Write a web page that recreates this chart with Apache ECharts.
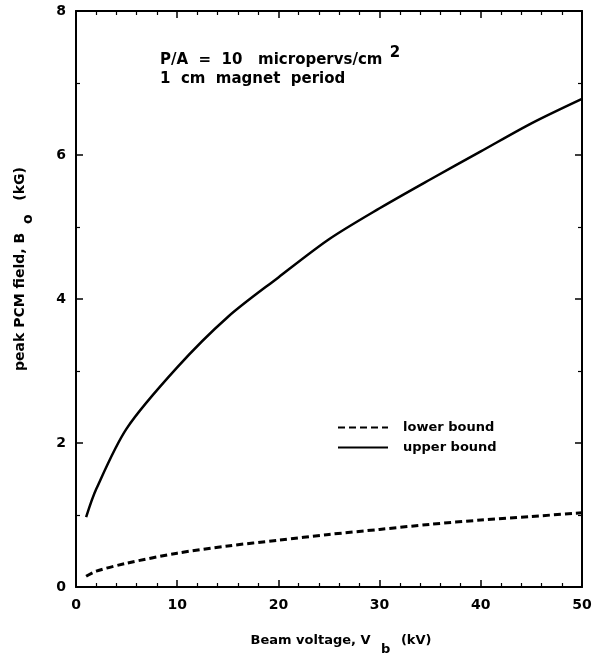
<!DOCTYPE html>
<html><head><meta charset="utf-8">
<script src="https://cdn.jsdelivr.net/npm/echarts@6/dist/echarts.min.js"></script>
<style>html,body{margin:0;padding:0;background:#fff}#c{width:608px;height:660px}</style>
</head><body><div id="c"></div>
<script>
var voltage = [1, 2, 5, 10, 15, 20, 25, 30, 35, 40, 45, 50];
var upperBound = [0.97, 1.36, 2.2, 3.05, 3.75, 4.3, 4.83, 5.26, 5.66, 6.05, 6.44, 6.78];
var lowerBound = [0.15, 0.22, 0.33, 0.47, 0.57, 0.65, 0.73, 0.80, 0.87, 0.93, 0.98, 1.03];
var seriesNames = ['lower bound', 'upper bound'];

function pairs(xs, ys){ return xs.map(function(x,i){return [x, ys[i]];}); }
var F = 'DejaVu Sans, Verdana, sans-serif';
var chart = echarts.init(document.getElementById('c'));
var line = {show:true,onZero:false,lineStyle:{color:'#000',width:2}};
var tick = {show:true,inside:true,length:7,lineStyle:{color:'#000',width:1.5}};
var xMinor = {show:true,splitNumber:5,length:4,lineStyle:{color:'#000',width:1.2}};
var yMinor = {show:true,splitNumber:2,length:4,lineStyle:{color:'#000',width:1.2}};
chart.setOption({
  animation:false,
  backgroundColor:'#fff',
  grid:{left:76,right:26,top:11,bottom:73,outerBoundsMode:'none',containLabel:false},
  legend:{
    data:seriesNames, orient:'vertical', left:332, top:416, itemGap:7,
    itemWidth:50, itemHeight:14,
    itemStyle:{opacity:0},
    textStyle:{fontFamily:F,fontSize:13,fontWeight:'bold',color:'#000',padding:[0,0,0,10]}
  },
  xAxis:[
    {type:'value',min:0,max:50,interval:10,position:'bottom',
      axisLine:line,axisTick:tick,minorTick:xMinor,splitLine:{show:false},
      axisLabel:{color:'#000',fontFamily:F,fontSize:14,fontWeight:'bold',margin:11},
      name:'{n|Beam voltage, V }{s|b}{n| (kV)}', nameLocation:'middle', nameGap:38,
      nameTextStyle:{padding:[0,0,0,24],rich:{n:{fontFamily:F,fontSize:13,fontWeight:'bold',color:'#000'},
        s:{fontFamily:F,fontSize:13,fontWeight:'bold',color:'#000',padding:[18,6,0,6]}}}
    },
    {type:'value',min:0,max:50,interval:10,position:'top',axisLabel:{show:false},
      axisLine:line,axisTick:tick,minorTick:xMinor,splitLine:{show:false}}
  ],
  yAxis:[
    {type:'value',min:0,max:8,interval:2,position:'left',
      axisLine:line,axisTick:tick,minorTick:yMinor,splitLine:{show:false},
      axisLabel:{color:'#000',fontFamily:F,fontSize:14,fontWeight:'bold',margin:10},
      name:'{n|peak PCM field, B }{s|o}{n|  (kG)}', nameLocation:'middle', nameGap:41, nameRotate:90,
      nameTextStyle:{padding:[0,0,0,60],rich:{n:{fontFamily:F,fontSize:14,fontWeight:'bold',color:'#000'},
        s:{fontFamily:F,fontSize:14,fontWeight:'bold',color:'#000',padding:[16,4,0,4]}}}
    },
    {type:'value',min:0,max:8,interval:2,position:'right',axisLabel:{show:false},
      axisLine:line,axisTick:tick,minorTick:yMinor,splitLine:{show:false}}
  ],
  graphic:[
    {type:'text',left:160,top:46,style:{
      text:'{t|P/A  =  10   micropervs/cm }{sup|2}',
      rich:{t:{fontFamily:F,fontSize:15,fontWeight:'bold',fill:'#000'},
        sup:{fontFamily:F,fontSize:15,fontWeight:'bold',fill:'#000',padding:[0,0,14,2]}}}},
    {type:'text',left:160,top:72,style:{text:'1  cm  magnet  period',
      fontFamily:F,fontSize:15,fontWeight:'bold',fill:'#000'}}
  ],
  series:[
    {name:seriesNames[0],type:'line',data:pairs(voltage,lowerBound),smooth:0.3,symbol:'none',
      lineStyle:{color:'#000',width:3,type:[7,4]},itemStyle:{color:'#000'}},
    {name:seriesNames[1],type:'line',data:pairs(voltage,upperBound),smooth:0.3,symbol:'none',
      lineStyle:{color:'#000',width:2.5},itemStyle:{color:'#000'}}
  ]
});
</script></body></html>
